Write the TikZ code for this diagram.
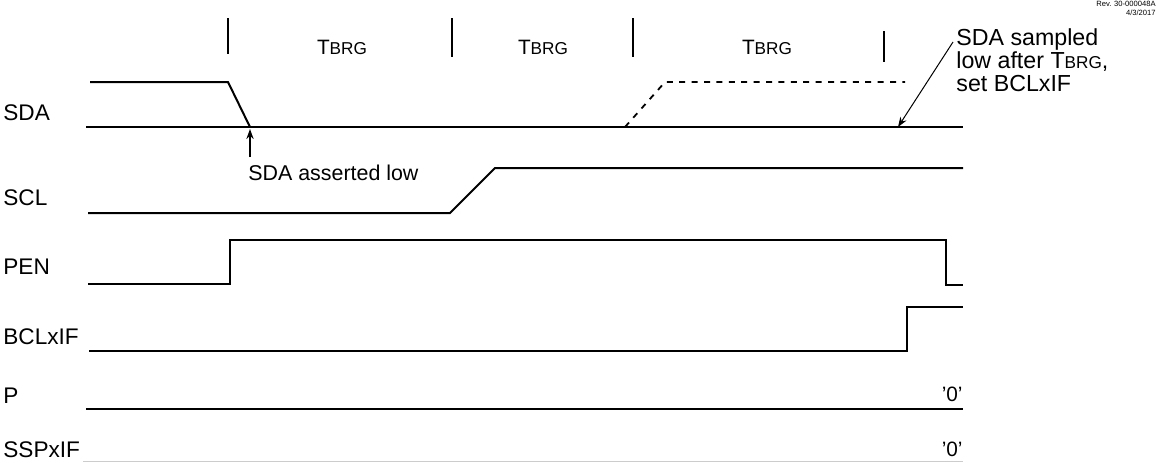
\documentclass[tikz,border=0pt]{standalone}
\usepackage{fontspec}
\setmainfont{Liberation Sans}
\usetikzlibrary{arrows.meta,positioning}

\newcommand{\tbrg}{T{\fontsize{8.6}{10}\selectfont BRG}}

\tikzset{
    wave/.style={line width=1pt},
    mark line/.style={line width=1pt},
    lost/.style={line width=0.9pt, dash pattern=on 3pt off 3.2pt},
    siglabel/.style={anchor=west, inner sep=0pt, font=\fontsize{11.3}{13}\selectfont},
    zero/.style={anchor=east, inner sep=0pt}
}

\begin{document}
\begin{tikzpicture}[x=0.5pt, y=-0.5pt, font=\fontsize{10.4}{12.5}\selectfont, >={Stealth[length=5pt,width=3.6pt]}]
    \useasboundingbox (0,0) rectangle (1160,462);

    % Revision
    \node[anchor=north east, align=right, inner sep=0pt, font=\fontsize{3.8}{4.4}\selectfont] (rev) at (1156,1) {Rev. 30-000048A\\4/3/2017};

    % Baud rate periods
    \foreach \x/\t/\b in {228/18/54, 452/18/57, 633/18/57, 884/31/62}
        \draw[mark line] (\x,\t) -- (\x,\b);
    \node (brg1) at (342,47) {\tbrg};
    \node (brg2) at (543,47) {\tbrg};
    \node (brg3) at (767,47) {\tbrg};

    % Signal names
    \node[siglabel] (sda) at (3,113) {SDA};
    \node[siglabel] (scl) at (3,198) {SCL};
    \node[siglabel] (pen) at (3,267) {PEN};
    \node[siglabel] (bcl) at (3,337) {BCLxIF};
    \node[siglabel] (p) at (3,396) {P};
    \node[siglabel] (sspif) at (3,450) {SSPxIF};

    % SDA
    \draw[wave] (90,82) -- (228,82) -- (250,127);
    \draw[wave] (86,127) -- (963,127);
    \draw[lost] (625,127) -- (665,82) -- (905,82);

    % SCL
    \draw[wave] (88,213) -- (450,213) -- (495,168) -- (963,168);

    % PEN
    \draw[wave] (88,284) -- (230,284) -- (230,240) -- (946,240) -- (946,285) -- (963,285);

    % BCLxIF
    \draw[wave] (89,351) -- (907,351) -- (907,307) -- (963,307);

    % P
    \draw[wave] (86,409) -- (963,409);
    \node[zero] (pzero) at (963,394) {'0'};

    % SSPxIF
    \draw[gray!40, line width=0.5pt] (83,461) -- (963,461);
    \node[zero] (sspzero) at (963,449) {'0'};

    % Annotations
    \coordinate (assertTail) at (250,157);
    \coordinate (assertTip) at (250,129);
    \draw[->, line width=0.8pt] (assertTail) -- (assertTip);
    \node[anchor=west, inner sep=0pt, font=\fontsize{10.7}{12.5}\selectfont] (asserted) at (248,173) {SDA asserted low};

    \node[anchor=north west, align=left, inner sep=0pt, font=\fontsize{11.6}{11.5}\selectfont] (sampled) at (956,28) {SDA sampled\\low after \tbrg,\\set BCLxIF};
    \coordinate (sampleTail) at (953,42);
    \coordinate (sampleTip) at (898,127);
    \draw[->, line width=0.5pt] (sampleTail) -- (sampleTip);
\end{tikzpicture}
\end{document}
